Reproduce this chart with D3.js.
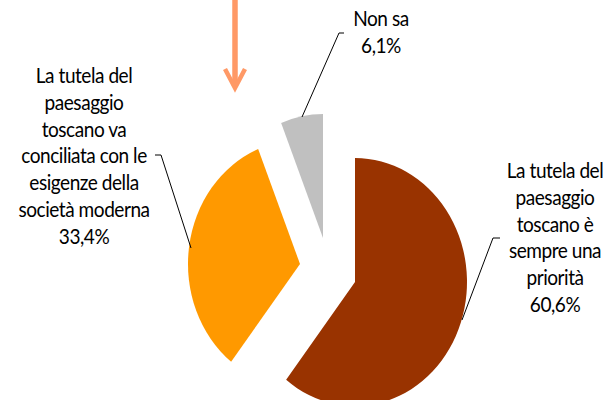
<!DOCTYPE html>
<html>
<head>
<meta charset="utf-8">
<script src="https://cdn.jsdelivr.net/npm/d3@7"></script>
<style>
  body { margin: 0; background: #fff; }
  text { font-family: Lato, "Open Sans", sans-serif; fill: #000; }
</style>
</head>
<body>
<div id="chart"></div>
<script>
// answers and shares (%)
const categories = [
    "La tutela del paesaggio toscano è sempre una priorità",
    "La tutela del paesaggio toscano va conciliata con le esigenze della società moderna",
    "Non sa"
];
const values = [60.6, 33.4, 6.1];
// how each label is wrapped in the picture
const labelLines = [
    ["La tutela del", "paesaggio", "toscano è", "sempre una", "priorità"],
    ["La tutela del", "paesaggio", "toscano va", "conciliata con le", "esigenze della", "società moderna"],
    ["Non sa"]
];
const colors = ["#993300", "#FF9900", "#C0C0C0"];

const width = 610, height = 400;
const center = {x: 327, y: 264};
const rx = 112, ry = 124;
// explosion of each slice (px)
const explode = [[28, 18], [-27, 0], [-4, -26]];
// label anchor (centre x, first baseline) and leader lines
const labelPos = [[555, 178], [84, 83], [381, 26]];
const lineH = 26.8;
const leaders = [
    [[500, 238], [493, 238], [462, 320]],
    [[155, 155], [161, 155], [191, 248]],
    [[344, 33], [339, 33], [302, 117]]
];

const fmt = v => d3.format(".1f")(v).replace(".", ",") + "%";

const svg = d3.select("#chart").append("svg")
    .attr("width", width)
    .attr("height", height);

svg.append("rect").attr("width", width).attr("height", height).attr("fill", "#fff");

const pie = d3.pie().sort(null).value(d => d);
const arc = d3.arc().innerRadius(0).outerRadius(rx);

svg.selectAll("path.slice")
    .data(pie(values))
    .enter()
    .append("path")
    .attr("class", "slice")
    .attr("transform", (d, i) => "translate(" + (center.x + explode[i][0]) + "," + (center.y + explode[i][1]) + ") scale(1," + (ry / rx) + ")")
    .attr("d", arc)
    .attr("fill", (d, i) => colors[i]);

// leader lines
svg.selectAll("polyline.leader")
    .data(leaders)
    .enter()
    .append("polyline")
    .attr("class", "leader")
    .attr("points", d => d.map(p => p.join(",")).join(" "))
    .attr("fill", "none")
    .attr("stroke", "#000")
    .attr("stroke-width", 1);

// labels
categories.forEach((c, i) => {
    let lines = labelLines[i].concat([fmt(values[i])]);
    let t = svg.append("text")
        .attr("text-anchor", "middle")
        .attr("font-size", 20.5)
        .attr("letter-spacing", -0.5)
        .attr("transform", "translate(" + labelPos[i][0] + "," + labelPos[i][1] + ") scale(0.93,1)");
    t.selectAll("tspan")
        .data(lines)
        .enter()
        .append("tspan")
        .attr("x", 0)
        .attr("y", (d, j) => j * lineH)
        .text(d => d);
});

// orange arrow pointing down at the top
const arrow = svg.append("g").attr("stroke", "#FF9966").attr("fill", "none");
arrow.append("line")
    .attr("x1", 235).attr("y1", 0)
    .attr("x2", 235).attr("y2", 84)
    .attr("stroke-width", 5.5);
arrow.append("polyline")
    .attr("points", "225,69 235,88 245,69")
    .attr("stroke-width", 4.5);
</script>
</body>
</html>
